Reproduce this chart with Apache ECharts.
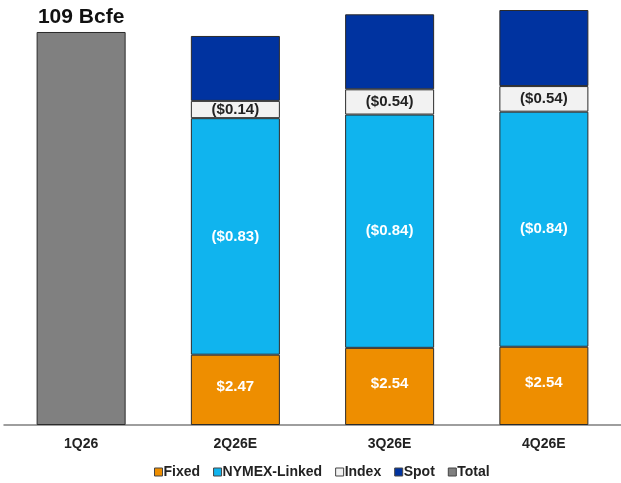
<!DOCTYPE html>
<html>
<head>
<meta charset="utf-8">
<script src="https://cdn.jsdelivr.net/npm/echarts@6/dist/echarts.min.js"></script>
<style>
  html, body { margin: 0; padding: 0; background: #fff; }
  #chart { width: 621px; height: 483px; }
</style>
</head>
<body>
<div id="chart"></div>
<script>
// Quarterly volumes (Bcfe) split by pricing type, with realized price labels
const categories = ['1Q26', '2Q26E', '3Q26E', '4Q26E'];
const fixedVol  = [null, 19.5, 21.4, 21.7];
const nymexVol  = [null, 65.6, 64.7, 65.2];
const indexVol  = [null, 4.8, 7.0, 7.1];
const spotVol   = [null, 18.0, 20.8, 21.1];
const totalVol  = [109, null, null, null];

const fixedLabels = [null, '$2.47', '$2.54', '$2.54'];
const nymexLabels = [null, '($0.83)', '($0.84)', '($0.84)'];
const indexLabels = [null, '($0.14)', '($0.54)', '($0.54)'];
const totalLabels = ['109 Bcfe', null, null, null];

const FONT = 'Liberation Sans, Arial, sans-serif';
const BORDER = '#2b2b2b';

function seg(name, data, color, labels, labelColor, offsetY) {
  return {
    name: name,
    type: 'bar',
    stack: 'vol',
    barWidth: '57.7%',
    data: data,
    itemStyle: { color: color, borderColor: BORDER, borderWidth: 1 },
    label: labels ? {
      show: true,
      position: 'inside',
      offset: [0, offsetY || 0],
      color: labelColor,
      fontFamily: FONT,
      fontWeight: 'bold',
      fontSize: 15,
      formatter: p => labels[p.dataIndex] || ''
    } : { show: false },
    emphasis: { disabled: true }
  };
}

const chart = echarts.init(document.getElementById('chart'));
chart.setOption({
  animation: false,
  legend: {
    bottom: -1,
    left: 149,
    itemWidth: 8,
    itemHeight: 8,
    itemGap: 13,
    icon: 'rect',
    itemStyle: { borderColor: '#444', borderWidth: 1 },
    textStyle: { fontFamily: FONT, fontWeight: 'bold', fontSize: 14, color: '#222', padding: [0, 0, 0, -4] },
    data: ['Fixed', 'NYMEX-Linked', 'Index', 'Spot', 'Total']
  },
  grid: { left: 4, right: 0, top: 10, bottom: 58, containLabel: false },
  xAxis: {
    type: 'category',
    data: categories,
    axisLine: { lineStyle: { color: '#7f7f7f', width: 1.5 } },
    axisTick: { show: false },
    axisLabel: { fontFamily: FONT, fontWeight: 'bold', fontSize: 14, color: '#222', margin: 12 }
  },
  yAxis: {
    type: 'value',
    min: 0,
    max: 115.1,
    show: false
  },
  series: [
    seg('Fixed', fixedVol, '#EE8E00', fixedLabels, '#ffffff', -3),
    seg('NYMEX-Linked', nymexVol, '#10B4EE', nymexLabels, '#ffffff', 0),
    seg('Index', indexVol, '#F2F2F2', indexLabels, '#222222', 0),
    seg('Spot', spotVol, '#0033A0', null),
    Object.assign(seg('Total', totalVol, '#808080', null), {
      label: {
        show: true,
        position: 'top',
        distance: 4,
        color: '#111',
        fontFamily: FONT,
        fontWeight: 'bold',
        fontSize: 21,
        formatter: p => totalLabels[p.dataIndex] || ''
      }
    })
  ]
});
</script>
</body>
</html>
